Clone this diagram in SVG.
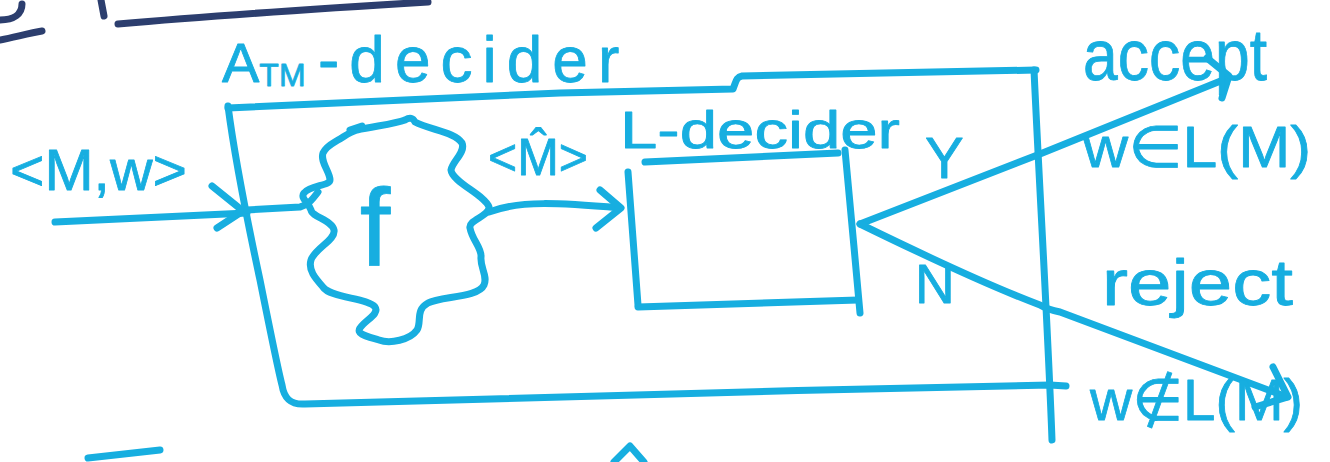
<svg xmlns="http://www.w3.org/2000/svg" width="1330" height="462" viewBox="0 0 1330 462">
<style>
.ln{fill:none;stroke:#17aee0;stroke-width:7;stroke-linecap:round;stroke-linejoin:round}
.dk{fill:none;stroke:#2c3e6e;stroke-width:7;stroke-linecap:round;stroke-linejoin:round}
.tx{font-family:"Liberation Sans","DejaVu Sans",sans-serif;fill:#17aee0;stroke:#17aee0;stroke-width:0.8;stroke-linejoin:round}
</style>
<rect width="1330" height="462" fill="#ffffff"/>
<g id="fragments">
<path class="dk" d="M0,20 C14,20 22,14 22,4"/>
<path class="dk" d="M0,40 C15,37 30,33 42,31"/>
<path class="dk" d="M101,0 L104,16"/>
<path class="dk" d="M118,24 C220,15 330,8 428,2"/>
<path class="ln" d="M88,458 L160,450"/>
<path class="ln" d="M614,462 L630,446 L644,462"/>
</g>
<g id="atm-decider">
<path class="ln" d="M228,108 C380,102 480,96 560,93 L733,89 C736,82 736,77 742,76 L1036,70"/>
<path class="ln" d="M1034,70 C1040,200 1048,330 1052,440"/>
<path class="ln" d="M228,106 C235,160 245,210 260,280 C270,330 278,370 282,385 C284,398 290,405 305,404 C500,398 800,390 1050,385 L1066,386"/>
<text class="tx" x="222" y="82" font-size="56">A<tspan font-size="32" dy="4">TM</tspan><tspan x="318" dy="-4" font-size="64" letter-spacing="10">-decider</tspan></text>
</g>
<g id="f">
<path class="ln" d="M357,130 C375,126 395,124 405,120 C410,117 413,118 415,122 C430,130 455,132 462,143 C466,152 452,162 451,170 C452,182 485,195 489,207 C490,216 468,220 470,228 C472,240 482,248 481,257 C480,268 488,276 484,285 C478,298 440,296 428,303 C415,310 422,322 417,330 C410,340 390,344 379,340 C366,336 356,334 360,328 C365,320 380,314 375,307 C368,298 330,298 323,287 C315,278 308,270 311,260 C315,248 336,240 334,230 C332,220 312,217 311,210 C308,202 300,198 304,193 C310,185 330,186 330,180 C330,172 320,162 323,153 C327,145 334,143 338,140 C345,136 350,132 357,130 Z"/>
<path class="ln" d="M350,130 L362,126"/>
<text class="tx" x="375" y="265" font-size="110" text-anchor="middle">f</text>
</g>
<g id="l-decider">
<path class="ln" d="M628,172 L638,305"/>
<path class="ln" d="M645,162 L838,153"/>
<path class="ln" d="M845,150 C850,200 855,260 860,313"/>
<path class="ln" d="M638,307 L858,300"/>
<text class="tx" x="620" y="148" font-size="52" textLength="280" lengthAdjust="spacingAndGlyphs">L-decider</text>
</g>
<g id="connectors">
<path class="ln" d="M55,222 L247,213"/>
<path class="ln" d="M212,186 L243,211 L217,228"/>
<path class="ln" d="M247,210 L300,207 C308,205 312,200 318,192"/>
<path class="ln" d="M489,212 C520,200 560,203 620,208"/>
<path class="ln" d="M600,190 L621,208 L596,228"/>
<path class="ln" d="M860,224 L1040,154 L1228,78"/>
<path class="ln" d="M1207,58 L1229,76 L1222,98"/>
<path class="ln" d="M860,224 C950,268 1000,290 1040,305 C1045,308 1050,310 1060,312 L1287,397"/>
<path class="ln" d="M1273,367 L1288,397 L1255,407"/>
</g>
<g id="labels">
<text class="tx" x="10" y="190" font-size="58" textLength="177" lengthAdjust="spacingAndGlyphs">&lt;M,w&gt;</text>
<text class="tx" x="488" y="175" font-size="52" textLength="100" lengthAdjust="spacingAndGlyphs">&lt;M&#770;&gt;</text>
<text class="tx" x="925" y="178" font-size="58">Y</text>
<text class="tx" x="915" y="303" font-size="55">N</text>
<text class="tx" x="1083" y="80" font-size="72" textLength="184" lengthAdjust="spacingAndGlyphs">accept</text>
<text class="tx" x="1083" y="167" font-size="58" textLength="228" lengthAdjust="spacingAndGlyphs">w∈L(M)</text>
<text class="tx" x="1102" y="305" font-size="64" textLength="191" lengthAdjust="spacingAndGlyphs">reject</text>
<text class="tx" x="1090" y="420" font-size="58" textLength="213" lengthAdjust="spacingAndGlyphs">w∉L(M)</text>
</g>
</svg>
